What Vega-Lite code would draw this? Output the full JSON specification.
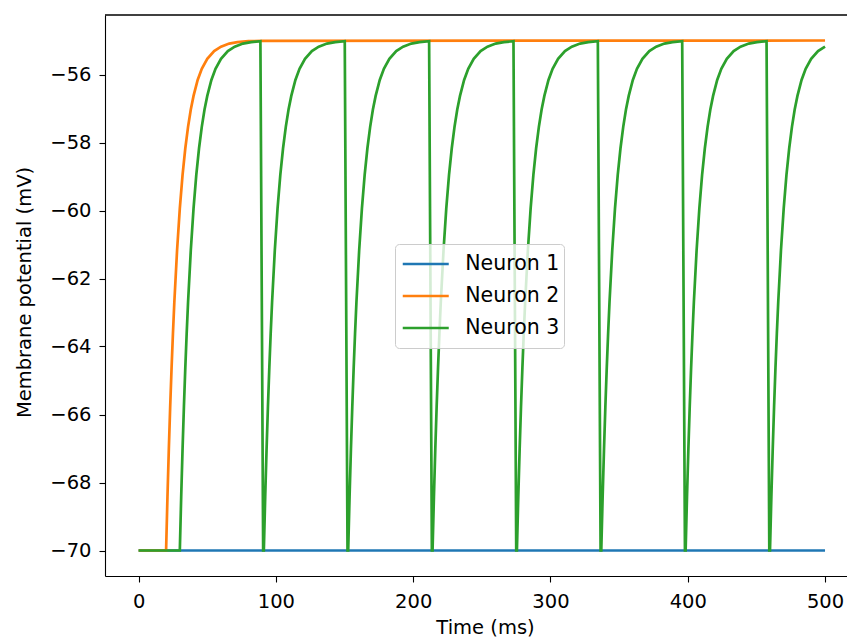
{
  "$schema": "https://vega.github.io/schema/vega-lite/v6.json",
  "autosize": "none",
  "padding": {"left": 105, "top": 15, "right": 0, "bottom": 65},
  "width": 742,
  "height": 561,
  "background": "white",
  "config": {
    "view": {"stroke": null},
    "font": "DejaVu Sans",
    "axis": {
      "domainColor": "black", "domainWidth": 1.1,
      "tickColor": "black", "tickWidth": 1.1, "tickSize": 6,
      "labelColor": "black", "labelFont": "DejaVu Sans", "labelFontSize": 19.5,
      "titleColor": "black", "titleFont": "DejaVu Sans", "titleFontSize": 19.5, "titleFontWeight": "normal",
      "grid": false
    },
    "legend": {
      "labelFont": "DejaVu Sans", "labelFontSize": 20.5, "labelColor": "black"
    }
  },
  "encoding": {
    "x": {
      "field": "t", "type": "quantitative",
      "scale": {"domain": [-24.5, 516], "nice": false, "zero": false},
      "axis": {"title": "Time (ms)", "values": [0, 100, 200, 300, 400, 500], "format": "d", "labelPadding": 10, "titlePadding": 8, "titleX": 380, "titleAlign": "center"}
    },
    "y": {
      "field": "v", "type": "quantitative",
      "scale": {"domain": [-70.75, -54.25], "nice": false, "zero": false},
      "axis": {"title": "Membrane potential (mV)", "values": [-70, -68, -66, -64, -62, -60, -58, -56], "format": "d", "labelPadding": 8, "titlePadding": 15, "titleY": 277, "titleAlign": "center"}
    }
  },
  "layer": [
    {
      "data": {"values": [{"t": 0, "v": -70}, {"t": 500, "v": -70}]},
      "mark": {"type": "line", "strokeWidth": 2.7},
      "encoding": {"color": {
        "datum": "Neuron 1", "type": "nominal",
        "scale": {"domain": ["Neuron 1", "Neuron 2", "Neuron 3"], "range": ["#1f77b4", "#ff7f0e", "#2ca02c"]},
        "legend": {
          "title": null, "orient": "none", "legendX": 290, "legendY": 229,
          "symbolType": "stroke", "symbolSize": 2116, "symbolStrokeWidth": 2.7, "symbolOffset": 2,
          "clipHeight": 31.5, "rowPadding": 0, "padding": 4.25, "labelOffset": 15,
          "strokeColor": "#cccccc", "fillColor": "rgba(255,255,255,0.8)", "cornerRadius": 4
        }
      }}
    },
    {
      "data": {"values": [
        {"t": 0, "v": -70}, {"t": 20, "v": -70}, {"t": 21, "v": -68.42}, {"t": 22, "v": -67.01}, {"t": 23, "v": -65.75},
        {"t": 24, "v": -64.62}, {"t": 25, "v": -63.61}, {"t": 26, "v": -62.7}, {"t": 28, "v": -61.17}, {"t": 30, "v": -59.94},
        {"t": 32, "v": -58.95}, {"t": 34, "v": -58.17}, {"t": 36, "v": -57.54}, {"t": 38, "v": -57.03}, {"t": 40, "v": -56.63},
        {"t": 43, "v": -56.16}, {"t": 46, "v": -55.83}, {"t": 50, "v": -55.54}, {"t": 55, "v": -55.31}, {"t": 60, "v": -55.18},
        {"t": 66, "v": -55.09}, {"t": 72, "v": -55.05}, {"t": 80, "v": -55.02}, {"t": 90, "v": -55.01}, {"t": 500, "v": -55.0}
      ]},
      "mark": {"type": "line", "strokeWidth": 2.7},
      "encoding": {"color": {"datum": "Neuron 2", "type": "nominal"}}
    },
    {
      "data": {"values": [
        {"t": 0, "v": -70}, {"t": 30, "v": -70}, {"t": 31, "v": -68.42}, {"t": 32, "v": -67.01}, {"t": 33, "v": -65.75},
        {"t": 34, "v": -64.62}, {"t": 35, "v": -63.61}, {"t": 36, "v": -62.7}, {"t": 38, "v": -61.17}, {"t": 40, "v": -59.94},
        {"t": 42, "v": -58.95}, {"t": 44, "v": -58.17}, {"t": 46, "v": -57.54}, {"t": 48, "v": -57.03}, {"t": 50, "v": -56.63},
        {"t": 53, "v": -56.16}, {"t": 56, "v": -55.83}, {"t": 60, "v": -55.54}, {"t": 65, "v": -55.31}, {"t": 70, "v": -55.18},
        {"t": 76, "v": -55.09}, {"t": 82, "v": -55.05}, {"t": 88.7, "v": -55.02}, {"t": 90.7, "v": -70},

        {"t": 91.2, "v": -70}, {"t": 92.2, "v": -68.42}, {"t": 93.2, "v": -67.01}, {"t": 94.2, "v": -65.75},
        {"t": 95.2, "v": -64.62}, {"t": 96.2, "v": -63.61}, {"t": 97.2, "v": -62.7}, {"t": 99.2, "v": -61.17}, {"t": 101.2, "v": -59.94},
        {"t": 103.2, "v": -58.95}, {"t": 105.2, "v": -58.17}, {"t": 107.2, "v": -57.54}, {"t": 109.2, "v": -57.03}, {"t": 111.2, "v": -56.63},
        {"t": 114.2, "v": -56.16}, {"t": 117.2, "v": -55.83}, {"t": 121.2, "v": -55.54}, {"t": 126.2, "v": -55.31}, {"t": 131.2, "v": -55.18},
        {"t": 137.2, "v": -55.09}, {"t": 143.2, "v": -55.05}, {"t": 150.15, "v": -55.02}, {"t": 152.15, "v": -70},

        {"t": 152.65, "v": -70}, {"t": 153.65, "v": -68.42}, {"t": 154.65, "v": -67.01}, {"t": 155.65, "v": -65.75},
        {"t": 156.65, "v": -64.62}, {"t": 157.65, "v": -63.61}, {"t": 158.65, "v": -62.7}, {"t": 160.65, "v": -61.17}, {"t": 162.65, "v": -59.94},
        {"t": 164.65, "v": -58.95}, {"t": 166.65, "v": -58.17}, {"t": 168.65, "v": -57.54}, {"t": 170.65, "v": -57.03}, {"t": 172.65, "v": -56.63},
        {"t": 175.65, "v": -56.16}, {"t": 178.65, "v": -55.83}, {"t": 182.65, "v": -55.54}, {"t": 187.65, "v": -55.31}, {"t": 192.65, "v": -55.18},
        {"t": 198.65, "v": -55.09}, {"t": 204.65, "v": -55.05}, {"t": 211.6, "v": -55.02}, {"t": 213.6, "v": -70},

        {"t": 214.1, "v": -70}, {"t": 215.1, "v": -68.42}, {"t": 216.1, "v": -67.01}, {"t": 217.1, "v": -65.75},
        {"t": 218.1, "v": -64.62}, {"t": 219.1, "v": -63.61}, {"t": 220.1, "v": -62.7}, {"t": 222.1, "v": -61.17}, {"t": 224.1, "v": -59.94},
        {"t": 226.1, "v": -58.95}, {"t": 228.1, "v": -58.17}, {"t": 230.1, "v": -57.54}, {"t": 232.1, "v": -57.03}, {"t": 234.1, "v": -56.63},
        {"t": 237.1, "v": -56.16}, {"t": 240.1, "v": -55.83}, {"t": 244.1, "v": -55.54}, {"t": 249.1, "v": -55.31}, {"t": 254.1, "v": -55.18},
        {"t": 260.1, "v": -55.09}, {"t": 266.1, "v": -55.05}, {"t": 273.05, "v": -55.02}, {"t": 275.05, "v": -70},

        {"t": 275.55, "v": -70}, {"t": 276.55, "v": -68.42}, {"t": 277.55, "v": -67.01}, {"t": 278.55, "v": -65.75},
        {"t": 279.55, "v": -64.62}, {"t": 280.55, "v": -63.61}, {"t": 281.55, "v": -62.7}, {"t": 283.55, "v": -61.17}, {"t": 285.55, "v": -59.94},
        {"t": 287.55, "v": -58.95}, {"t": 289.55, "v": -58.17}, {"t": 291.55, "v": -57.54}, {"t": 293.55, "v": -57.03}, {"t": 295.55, "v": -56.63},
        {"t": 298.55, "v": -56.16}, {"t": 301.55, "v": -55.83}, {"t": 305.55, "v": -55.54}, {"t": 310.55, "v": -55.31}, {"t": 315.55, "v": -55.18},
        {"t": 321.55, "v": -55.09}, {"t": 327.55, "v": -55.05}, {"t": 334.5, "v": -55.02}, {"t": 336.5, "v": -70},

        {"t": 337, "v": -70}, {"t": 338, "v": -68.42}, {"t": 339, "v": -67.01}, {"t": 340, "v": -65.75},
        {"t": 341, "v": -64.62}, {"t": 342, "v": -63.61}, {"t": 343, "v": -62.7}, {"t": 345, "v": -61.17}, {"t": 347, "v": -59.94},
        {"t": 349, "v": -58.95}, {"t": 351, "v": -58.17}, {"t": 353, "v": -57.54}, {"t": 355, "v": -57.03}, {"t": 357, "v": -56.63},
        {"t": 360, "v": -56.16}, {"t": 363, "v": -55.83}, {"t": 367, "v": -55.54}, {"t": 372, "v": -55.31}, {"t": 377, "v": -55.18},
        {"t": 383, "v": -55.09}, {"t": 389, "v": -55.05}, {"t": 395.95, "v": -55.02}, {"t": 397.95, "v": -70},

        {"t": 398.45, "v": -70}, {"t": 399.45, "v": -68.42}, {"t": 400.45, "v": -67.01}, {"t": 401.45, "v": -65.75},
        {"t": 402.45, "v": -64.62}, {"t": 403.45, "v": -63.61}, {"t": 404.45, "v": -62.7}, {"t": 406.45, "v": -61.17}, {"t": 408.45, "v": -59.94},
        {"t": 410.45, "v": -58.95}, {"t": 412.45, "v": -58.17}, {"t": 414.45, "v": -57.54}, {"t": 416.45, "v": -57.03}, {"t": 418.45, "v": -56.63},
        {"t": 421.45, "v": -56.16}, {"t": 424.45, "v": -55.83}, {"t": 428.45, "v": -55.54}, {"t": 433.45, "v": -55.31}, {"t": 438.45, "v": -55.18},
        {"t": 444.45, "v": -55.09}, {"t": 450.45, "v": -55.05}, {"t": 457.4, "v": -55.02}, {"t": 459.4, "v": -70},

        {"t": 459.9, "v": -70}, {"t": 460.9, "v": -68.42}, {"t": 461.9, "v": -67.01}, {"t": 462.9, "v": -65.75},
        {"t": 463.9, "v": -64.62}, {"t": 464.9, "v": -63.61}, {"t": 465.9, "v": -62.7}, {"t": 467.9, "v": -61.17}, {"t": 469.9, "v": -59.94},
        {"t": 471.9, "v": -58.95}, {"t": 473.9, "v": -58.17}, {"t": 475.9, "v": -57.54}, {"t": 477.9, "v": -57.03}, {"t": 479.9, "v": -56.63},
        {"t": 482.9, "v": -56.16}, {"t": 485.9, "v": -55.83}, {"t": 489.9, "v": -55.54}, {"t": 494.9, "v": -55.31}, {"t": 500, "v": -55.18}
      ]},
      "mark": {"type": "line", "strokeWidth": 2.7},
      "encoding": {"color": {"datum": "Neuron 3", "type": "nominal"}}
    },
    {
      "data": {"values": [{"t": -24.5, "t2": 516, "v": -54.25}]},
      "mark": {"type": "rule", "strokeWidth": 1.6, "color": "black"},
      "encoding": {
        "x2": {"field": "t2"}
      }
    }
  ]
}
